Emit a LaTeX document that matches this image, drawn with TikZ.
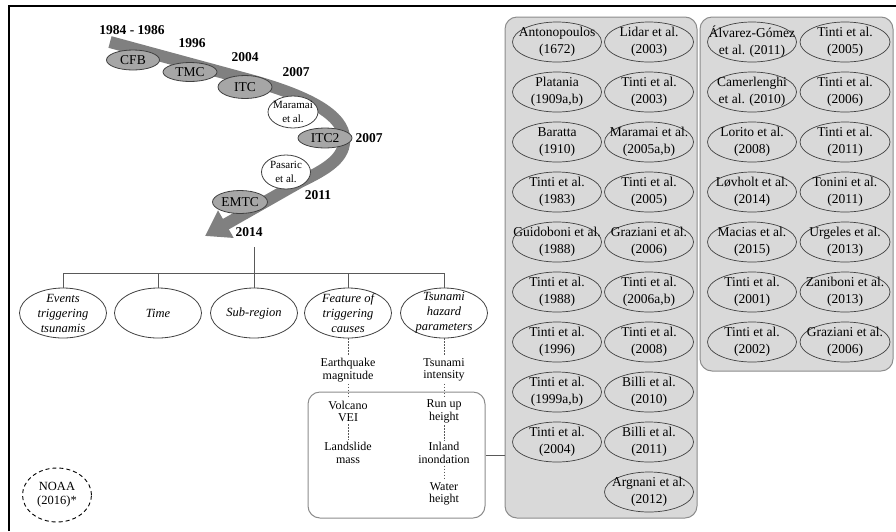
\documentclass[tikz,border=0pt]{standalone}
\usepackage{fontspec}
\setmainfont{Liberation Serif}
\usetikzlibrary{shapes.geometric,arrows.meta}
\definecolor{bandcol}{HTML}{808080}
\definecolor{tlfill}{HTML}{A6A6A6}
\definecolor{ellline}{HTML}{404040}
\definecolor{panelfill}{HTML}{D9D9D9}
\definecolor{panelline}{HTML}{8C8C8C}
\definecolor{connline}{HTML}{595959}
\definecolor{boxline}{HTML}{8C8C8C}
\newcommand\RefEll[6]{%
  \node[#1, minimum width=#4pt, minimum height=#5pt] (#2) at (#3) {};
  \node[#1 txt, align=center] (#2t) at (#2.center) {#6};}
\tikzset{
  tl/.style={ellipse, draw=ellline, fill=tlfill, line width=0.8pt, inner sep=0pt},
  tl txt/.style={font=\fontsize{13.5}{15}\selectfont, inner sep=0pt},
  tlw/.style={ellipse, draw=ellline, fill=white, line width=0.8pt, inner sep=0pt},
  tlw txt/.style={font=\fontsize{11}{14}\selectfont, inner sep=0pt},
  cat/.style={ellipse, draw=ellline, fill=white, line width=0.8pt, inner sep=0pt},
  cat txt/.style={font=\itshape\fontsize{12.5}{15}\selectfont, inner sep=0pt},
  refe/.style={ellipse, draw=ellline, fill=panelfill, line width=0.7pt, inner sep=0pt},
  refe txt/.style={font=\fontsize{13.5}{17}\selectfont, inner sep=0pt},
  noaa/.style={ellipse, draw=black, dash pattern=on 4pt off 3pt, line width=0.9pt, inner sep=0pt},
  noaa txt/.style={font=\fontsize{12.5}{14}\selectfont, inner sep=0pt},
  year/.style={font=\bfseries\fontsize{13.5}{15}\selectfont, inner sep=0pt},
  param/.style={align=center, font=\fontsize{12}{12.5}\selectfont, inner sep=2pt},
  panel/.style={draw=panelline, fill=panelfill, rounded corners=12pt, line width=1pt, inner sep=0pt},
  conn/.style={draw=connline, line width=0.8pt},
  dconn/.style={draw=connline, line width=0.6pt, dash pattern=on 1.5pt off 1.5pt},
}
\begin{document}
\begin{tikzpicture}[x=1pt,y=-1pt]
\useasboundingbox (0,0) rectangle (896,531);
% frame
\draw[line width=1.3pt] (9,531) -- (9,6) -- (896,6);
% timeline band
\draw[bandcol, line width=12pt, -{Triangle[length=24pt,width=30pt]}]
  (110,42) -- (250,80) .. controls (330,102) and (350,125) .. (343,148)
  .. controls (338,163) and (320,172) .. (300,182) -- (205,236);
% timeline ellipses
\RefEll{tl}{cfb}{133,60}{53}{20}{CFB}
\RefEll{tl}{tmc}{190,72}{54}{19}{TMC}
\RefEll{tl}{itc}{245,87}{54}{23}{ITC}
\RefEll{tlw}{mar}{293,112}{50}{32}{Maramai\\et al.}
\RefEll{tl}{itcb}{325,138}{54}{20}{ITC2}
\RefEll{tlw}{pas}{286,172}{49}{34}{Pasaric\\et al.}
\RefEll{tl}{emtc}{240,202}{55}{23}{EMTC}
% years
\node[year] (y84) at (132,30) {1984 - 1986};
\node[year] (y96) at (192,43) {1996};
\node[year] (y04) at (245,57) {2004};
\node[year] (y07a) at (296,72) {2007};
\node[year] (y07b) at (369,138) {2007};
\node[year] (y11) at (318,195) {2011};
\node[year] (y14) at (249,232) {2014};
% category ellipses
\RefEll{cat}{e1}{63,313}{87}{50}{Events\\triggering\\tsunamis}
\RefEll{cat}{e2}{158,313}{87}{50}{Time}
\RefEll{cat}{e3}{254,313}{87}{50}{Sub-region}
\RefEll{cat}{e4}{348,313}{87}{50}{Feature of\\triggering\\causes}
\RefEll{cat}{e5}{444,313}{87}{50}{Tsunami\\hazard\\parameters}
\coordinate (hubtop) at (254,247);
\draw[conn] (hubtop) -- (e3.north);
\draw[conn] (e1.north |- 0,273) -- (e5.north |- 0,273);
\foreach \e in {e1,e2,e4,e5} \draw[conn] (\e.north |- 0,273) -- (\e.north);
% parameter box
\node[draw=boxline, rounded corners=12pt, line width=1pt, minimum width=177pt, minimum height=126pt, inner sep=0pt] (box) at (396.5,455) {};
\node[param] (eq) at (348,370) {Earthquake\\magnitude};
\node[param] (vol) at (348,411.5) {Volcano\\VEI};
\node[param] (land) at (348,453) {Landslide\\mass};
\node[param] (tsi) at (444,370) {Tsunami\\intensity};
\node[param] (run) at (444,411.5) {Run up\\height};
\node[param] (inl) at (444,453) {Inland\\inondation};
\node[param] (wat) at (444,494) {Water\\height};
\draw[dconn] (e4.south) -- (eq.north);
\draw[dconn] (eq.south) -- (vol.north);
\draw[dconn] (vol.south) -- (land.north);
\draw[dconn] (e5.south) -- (tsi.north);
\draw[dconn] (tsi.south) -- (run.north);
\draw[dconn] (run.south) -- (inl.north);
\draw[dconn] (inl.south) -- (wat.north);
% NOAA
\RefEll{noaa}{noaa}{57,495}{69}{54}{NOAA\\(2016)*}
% panels
\node[panel, minimum width=192pt, minimum height=501pt] (P1) at (601,267.5) {};
\node[panel, minimum width=193pt, minimum height=354pt] (P2) at (796.5,194) {};
\draw[conn] (box.east) -- (box.east -| P1.west);
% panel 1, column 1
\RefEll{refe}{a1}{557,42}{89}{40}{Antonopoulos\\(1672)}
\RefEll{refe}{a2}{557,92}{89}{40}{Platania\\(1909a,b)}
\RefEll{refe}{a3}{557,142}{89}{40}{Baratta\\(1910)}
\RefEll{refe}{a4}{557,192}{89}{40}{Tinti et al.\\(1983)}
\RefEll{refe}{a5}{557,242}{89}{40}{Guidoboni et al.\\(1988)}
\RefEll{refe}{a6}{557,292}{89}{40}{Tinti et al.\\(1988)}
\RefEll{refe}{a7}{557,342}{89}{40}{Tinti et al.\\(1996)}
\RefEll{refe}{a8}{557,392}{89}{40}{Tinti et al.\\(1999a,b)}
\RefEll{refe}{a9}{557,442}{89}{40}{Tinti et al.\\(2004)}
% panel 1, column 2
\RefEll{refe}{b1}{649,42}{89}{40}{Lidar et al.\\(2003)}
\RefEll{refe}{b2}{649,92}{89}{40}{Tinti et al.\\(2003)}
\RefEll{refe}{b3}{649,142}{89}{40}{Maramai et al.\\(2005a,b)}
\RefEll{refe}{b4}{649,192}{89}{40}{Tinti et al.\\(2005)}
\RefEll{refe}{b5}{649,242}{89}{40}{Graziani et al.\\(2006)}
\RefEll{refe}{b6}{649,292}{89}{40}{Tinti et al.\\(2006a,b)}
\RefEll{refe}{b7}{649,342}{89}{40}{Tinti et al.\\(2008)}
\RefEll{refe}{b8}{649,392}{89}{40}{Billi et al.\\(2010)}
\RefEll{refe}{b9}{649,442}{89}{40}{Billi et al.\\(2011)}
\RefEll{refe}{b10}{649,492}{89}{40}{Argnani et al.\\(2012)}
% panel 2, column 1
\RefEll{refe}{c1}{752,42}{89}{40}{Álvarez-Gómez\\et al. (2011)}
\RefEll{refe}{c2}{752,92}{89}{40}{Camerlenghi\\et al. (2010)}
\RefEll{refe}{c3}{752,142}{89}{40}{Lorito et al.\\(2008)}
\RefEll{refe}{c4}{752,192}{89}{40}{Løvholt et al.\\(2014)}
\RefEll{refe}{c5}{752,242}{89}{40}{Macias et al.\\(2015)}
\RefEll{refe}{c6}{752,292}{89}{40}{Tinti et al.\\(2001)}
\RefEll{refe}{c7}{752,342}{89}{40}{Tinti et al.\\(2002)}
% panel 2, column 2
\RefEll{refe}{d1}{845,42}{90}{40}{Tinti et al.\\(2005)}
\RefEll{refe}{d2}{845,92}{90}{40}{Tinti et al.\\(2006)}
\RefEll{refe}{d3}{845,142}{90}{40}{Tinti et al.\\(2011)}
\RefEll{refe}{d4}{845,192}{90}{40}{Tonini et al.\\(2011)}
\RefEll{refe}{d5}{845,242}{90}{40}{Urgeles et al.\\(2013)}
\RefEll{refe}{d6}{845,292}{90}{40}{Zaniboni et al.\\(2013)}
\RefEll{refe}{d7}{845,342}{90}{40}{Graziani et al.\\(2006)}
\end{tikzpicture}
\end{document}
